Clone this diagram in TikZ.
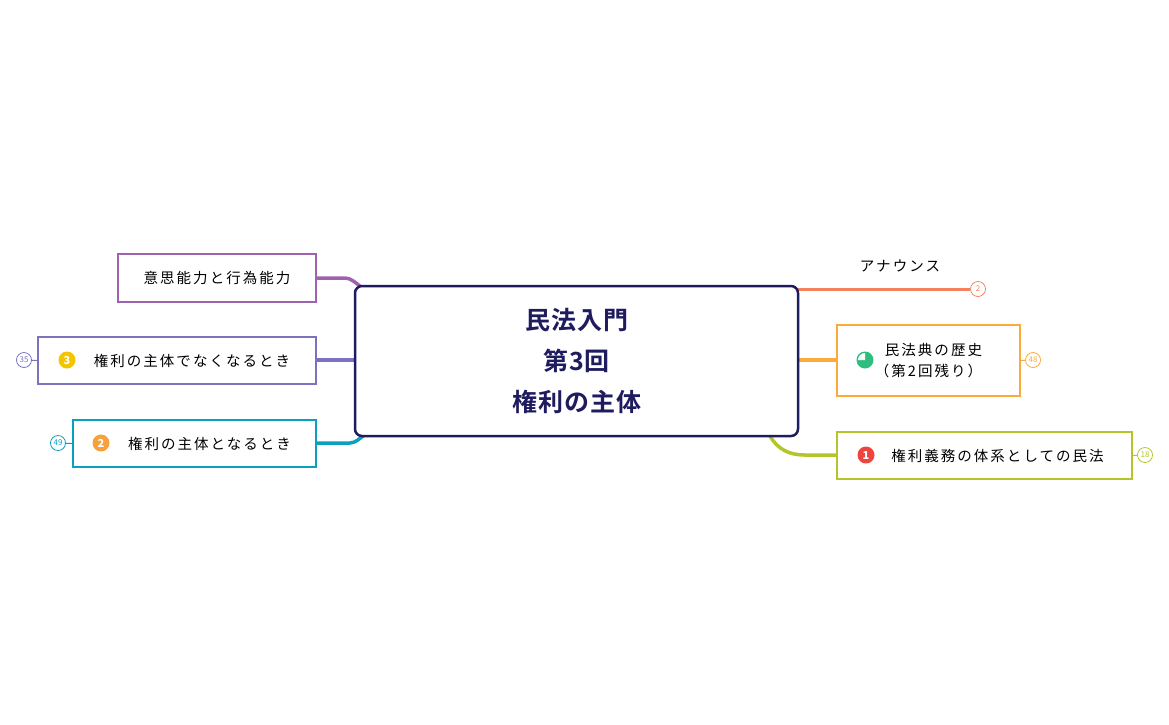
\documentclass[tikz,border=0pt]{standalone}
\usepackage{fontspec}
\setmainfont{Noto Sans CJK JP}[LetterSpace=14]
\newfontfamily\mainb{Noto Sans CJK JP Bold}[LetterSpace=4]
\begin{document}
\begin{tikzpicture}[x=1pt,y=-1pt,
  box/.style={draw,line width=2.2pt,fill=white,inner sep=0pt,font=\fontsize{14.5}{21}\selectfont},
  conn/.style={line width=3.5pt},
  badge/.style={circle,draw,line width=0.8pt,inner sep=0pt,minimum size=15pt,font=\addfontfeature{LetterSpace=0}\fontsize{8}{9}\selectfont},
  icon/.style={circle,fill,inner sep=0pt,minimum size=17pt,text=white,font=\bfseries\addfontfeature{LetterSpace=0}\fontsize{11}{11}\selectfont}]
\definecolor{navy}{HTML}{1E1B5E}
\definecolor{cpur}{HTML}{A062B0}
\definecolor{cvio}{HTML}{7B72C0}
\definecolor{ccya}{HTML}{0AA0BF}
\definecolor{cred}{HTML}{F5825F}
\definecolor{corg}{HTML}{FBAB3A}
\definecolor{clim}{HTML}{B5C42A}
\definecolor{igold}{HTML}{F2C500}
\definecolor{iorg}{HTML}{F7A03C}
\definecolor{ired}{HTML}{F0443F}
\definecolor{igrn}{HTML}{2DBE7E}
\useasboundingbox (0,0) rectangle (1169,724);
% connectors
\draw[conn,cpur] (316,278) -- (345,278) to[out=0,in=-120] (372,288);
\draw[conn,cvio] (316,360) -- (357,360);
\draw[conn,ccya] (316,443) -- (350,443) to[out=0,in=120] (374,434);
\draw[line width=3pt,cred] (796,289) -- (970,289);
\draw[conn,corg] (796,360) -- (837,360);
\draw[conn,clim] (770,436) to[out=-60,in=180] (805,455) -- (837,455);
% central
\node[draw=navy,line width=2.5pt,rounded corners=7pt,fill=white,minimum width=443pt,minimum height=150pt,text=navy,align=center,font=\mainb\fontsize{25}{41}\selectfont] (c) at (576.5,361) {民法入門\\第3回\\権利の主体};
% left
\node[box,draw=cpur,minimum width=198pt,minimum height=48pt] (a) at (217,278) {意思能力と行為能力};
\node[box,draw=cvio,minimum width=278pt,minimum height=47pt] (b) at (177,360.5) {\hspace{30pt}権利の主体でなくなるとき};
\node[icon,fill=igold] (bi) at (67,360) {3};
\node[badge,draw=cvio,text=cvio] (bb) at (24,360) {35};
\draw[cvio,line width=1pt] (bb) -- (b.west);
\node[box,draw=ccya,minimum width=243pt,minimum height=47pt] (d) at (194.5,443.5) {\hspace{30pt}権利の主体となるとき};
\node[icon,fill=iorg] (di) at (101,443) {2};
\node[badge,draw=ccya,text=ccya] (db) at (58,443) {49};
\draw[ccya,line width=1pt] (db) -- (d.west);
% right
\node[font=\fontsize{14.5}{17}\selectfont] (an) at (900,266) {アナウンス};
\node[badge,draw=cred,text=cred] (ab) at (978,289) {2};
\node[box,draw=corg,minimum width=183pt,minimum height=71pt,align=left] (e) at (928.5,360.5) {\hspace{10pt}民法典の歴史\\（第2回残り）};
\fill[igrn] (865,360) circle (8.5pt);
\fill[white] (865,360) -- (865,353) arc[start angle=-90,end angle=-180,radius=7] -- cycle;
\node[badge,draw=corg,text=corg] (eb) at (1033,360) {48};
\draw[corg,line width=1pt] (e.east) -- (eb);
\node[box,draw=clim,minimum width=295pt,minimum height=47pt] (f) at (984.5,455.5) {\hspace{26pt}権利義務の体系としての民法};
\node[icon,fill=ired] (fi) at (866,455) {1};
\node[badge,draw=clim,text=clim] (fb) at (1145,455) {18};
\draw[clim,line width=1pt] (f.east) -- (fb);
\end{tikzpicture}
\end{document}
